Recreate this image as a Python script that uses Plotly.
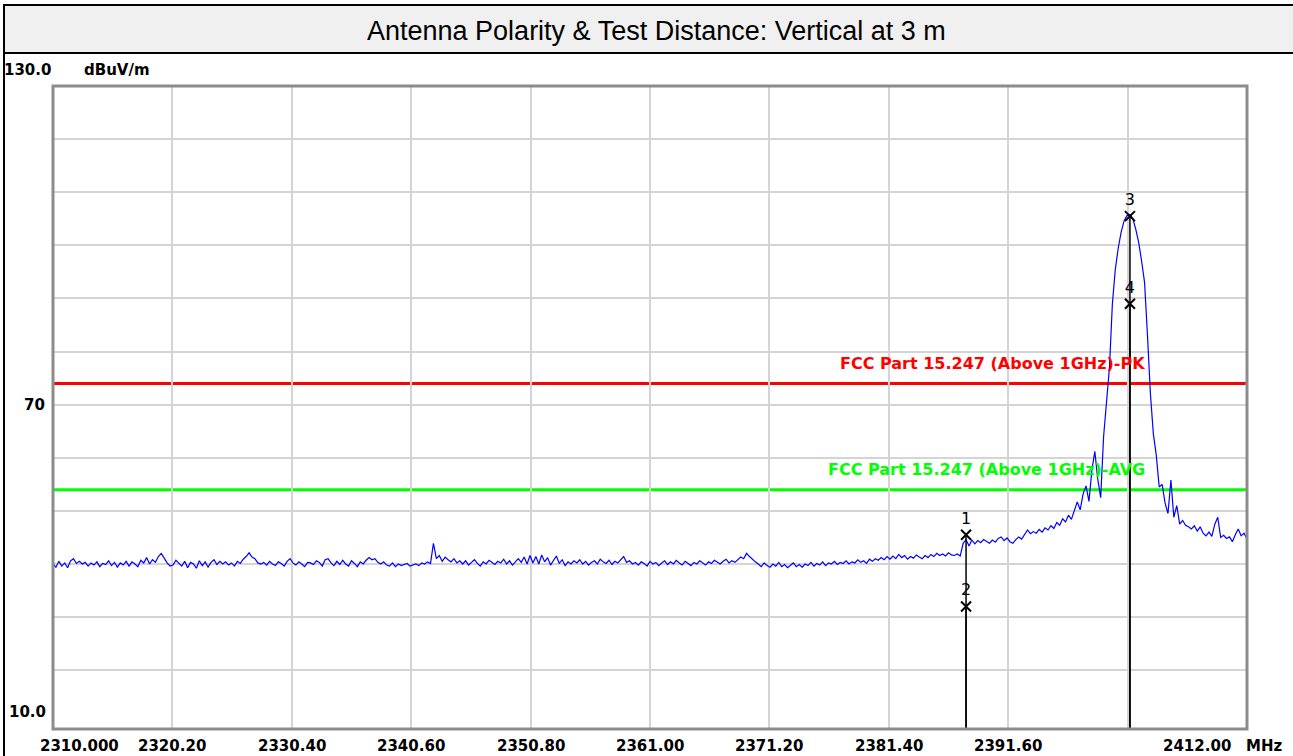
import numpy as np
import plotly.graph_objects as go

# ---------------- data ----------------
title_text = "Antenna Polarity & Test Distance: Vertical at 3 m"

f_start = 2310.0
f_stop = 2412.0
f_step = 0.25

# measured level (dBuV/m), one value every 0.25 MHz from 2310 to 2412 MHz
level_dbuv = [
    40.0, 39.4, 40.5, 39.6, 40.2, 39.3, 40.6, 41.0, 40.1, 40.5, 40.0, 40.3, 39.6, 40.2, 39.8, 40.4, 39.5, 40.1, 39.9, 40.6,
    39.7, 40.3, 39.4, 40.2, 39.8, 40.5, 39.6, 40.4, 40.0, 39.5, 40.7, 40.2, 41.2, 40.0, 40.8, 40.3, 41.4, 42.0, 41.1, 40.2,
    39.6, 39.8, 40.7, 40.2, 39.6, 40.5, 39.3, 40.3, 40.0, 39.2, 40.6, 39.7, 40.4, 39.4, 40.3, 40.8, 39.9, 40.5, 40.0, 40.4,
    39.8, 40.2, 39.6, 40.5, 40.1, 40.9, 41.4, 42.1, 41.3, 41.0, 40.2, 40.0, 40.3, 39.8, 40.5, 40.0, 39.7, 40.4, 40.1, 39.6,
    40.5, 41.0, 40.2, 39.8, 40.4, 40.0, 39.5, 40.3, 40.2, 39.9, 40.6, 40.3, 39.6, 40.8, 41.0, 40.2, 39.7, 40.5, 39.9, 40.7,
    40.0, 39.6, 40.6, 40.1, 39.5, 40.4, 40.0, 40.7, 41.2, 40.8, 41.0, 40.3, 40.0, 40.4, 39.8, 39.6, 40.2, 39.5, 40.0, 39.7,
    39.9, 40.1, 39.6, 39.8, 40.0, 39.7, 40.2, 40.0, 40.4, 40.1, 43.9, 41.0, 41.6, 40.5, 41.3, 40.8, 40.4, 41.0, 40.2, 40.6,
    40.0, 40.6, 39.8, 40.3, 40.8, 40.1, 39.6, 40.4, 40.0, 40.7, 40.3, 39.9, 40.5, 40.2, 40.9, 40.0, 40.6, 39.8, 40.4, 41.0,
    40.3, 41.3, 40.0, 41.6, 40.2, 41.4, 40.0, 41.7, 40.4, 41.2, 39.8, 40.7, 41.5, 40.1, 40.8, 39.7, 40.4, 40.0, 40.6, 40.2,
    40.8, 40.0, 40.5, 39.8, 40.3, 40.6, 40.0, 40.9, 40.4, 40.1, 40.7, 39.9, 40.5, 40.2, 40.8, 41.4, 40.3, 40.6, 40.0, 40.3,
    39.8, 40.4, 40.1, 39.6, 40.5, 40.0, 40.3, 39.7, 40.2, 40.6, 39.9, 40.4, 40.0, 40.7, 40.2, 39.8, 40.5, 40.1, 39.7, 40.3,
    40.0, 40.6, 40.2, 39.8, 40.4, 40.1, 40.7, 40.3, 40.0, 40.5, 40.9, 40.2, 40.6, 40.3, 40.8, 41.3, 41.0, 42.0, 41.4, 40.8,
    40.4, 40.0, 39.5, 40.2, 39.7, 39.4, 40.0, 39.6, 40.3, 39.5, 39.9, 39.3, 39.8, 40.2, 39.5, 39.9, 39.4, 40.0, 39.7, 40.3,
    39.6, 40.1, 39.8, 40.4, 39.7, 40.2, 40.0, 40.5, 39.9, 40.3, 40.1, 40.6, 40.0, 40.4, 40.2, 40.8, 40.3, 40.6, 40.1, 40.9,
    40.5, 41.0, 40.7, 41.2, 40.8, 41.4, 40.9, 41.5, 41.0, 41.8, 41.2, 41.6, 40.9, 41.4, 41.1, 41.7, 41.3, 41.0, 41.6, 41.2,
    41.8, 41.4, 42.0, 41.6, 41.9, 41.5, 42.1, 41.7, 41.6, 41.9, 41.5, 43.9, 44.6, 43.4, 44.5, 43.8, 44.4, 44.0, 44.6, 44.2,
    43.9, 44.5, 44.1, 44.8, 45.1, 44.4, 44.9, 44.2, 43.9, 44.6, 45.1, 44.7, 45.5, 46.4, 45.7, 46.1, 45.8, 46.5, 46.0, 46.8,
    46.4, 47.2, 46.7, 47.8, 47.3, 48.5, 47.9, 49.2, 48.4, 50.0, 51.7, 50.2, 53.2, 54.7, 51.8, 57.7, 61.2, 56.0, 52.5, 64.0,
    70.5, 77.0, 89.0, 95.5, 99.5, 102.5, 104.6, 105.6, 105.8, 105.0, 103.0, 100.5, 97.0, 93.0, 83.0, 72.0, 64.5, 60.5, 54.5, 55.0,
    51.5, 49.5, 55.8, 48.8, 51.0, 47.5, 48.2, 47.3, 47.0, 46.6, 47.2, 46.2, 47.0, 45.8, 45.3, 46.0, 45.2, 47.5, 48.8, 45.0,
    45.4, 44.8, 45.1, 44.2, 45.5, 46.6, 45.3, 45.8, 44.7,
]
freq_mhz = f_start + f_step * np.arange(len(level_dbuv))  # sweep grid

# markers
mk_freq = [2388.0, 2388.0, 2402.0, 2402.0]
mk_level = [45.5, 32.0, 105.5, 89.0]
mk_label = ["1", "2", "3", "4"]

# limit lines
limit_names = ["FCC Part 15.247 (Above 1GHz)-PK", "FCC Part 15.247 (Above 1GHz)-AVG"]
limit_levels = [74.0, 54.0]
limit_colors = ["#ff0000", "#00ff00"]

# axes
x_grid_vals = [2320.2, 2330.4, 2340.6, 2350.8, 2361.0, 2371.2, 2381.4, 2391.6, 2401.8]
x_label_vals = [2310.0, 2320.2, 2330.4, 2340.6, 2350.8, 2361.0, 2371.2, 2381.4, 2391.6, 2412.0]
x_label_text = ["2310.000", "2320.20", "2330.40", "2340.60", "2350.80", "2361.00",
                "2371.20", "2381.40", "2391.60", "2412.00"]
x_unit = "MHz"
y_grid_vals = [20, 30, 40, 50, 60, 70, 80, 90, 100, 110, 120]
y_label_vals = [130, 70, 10]
y_label_text = ["130.0", "70", "10.0"]
y_unit = "dBuV/m"

# ---------------- layout geometry ----------------
W, H = 1293, 756
ML, MR, MT, MB = 53, 46, 86, 27
PW, PH = W - ML - MR, H - MT - MB
Y_MIN, Y_MAX = 8.93, 130.0


def px_x(px):
    return (px - ML) / PW


def px_y(py):
    return (H - MB - py) / PH


AX_FONT = dict(family="DejaVu Sans", size=15, color="black", weight="bold")

fig = go.Figure()

fig.add_trace(go.Scatter(
    x=freq_mhz, y=level_dbuv, mode="lines",
    line=dict(color="#0000ff", width=1.2), hoverinfo="skip", showlegend=False))

# marker vertical lines
for f, lv in zip(mk_freq, mk_level):
    fig.add_trace(go.Scatter(x=[f, f], y=[lv, Y_MIN], mode="lines",
                             line=dict(color="black", width=1.5),
                             hoverinfo="skip", showlegend=False))

fig.add_trace(go.Scatter(
    x=mk_freq, y=mk_level, mode="markers+text", text=mk_label,
    textposition="top center",
    textfont=dict(family="DejaVu Sans", size=16, color="black"),
    marker=dict(symbol="x-thin", size=10, line=dict(color="black", width=2)),
    hoverinfo="skip", showlegend=False))

shapes = []
annotations = []

# limit lines + labels
for name, lv, col in zip(limit_names, limit_levels, limit_colors):
    shapes.append(dict(type="line", xref="paper", yref="y", x0=0, x1=1, y0=lv, y1=lv,
                       line=dict(color=col, width=3), layer="between"))
    annotations.append(dict(text=name, xref="paper", yref="y", x=px_x(1147), y=lv,
                            xanchor="right", yanchor="middle", yshift=20, showarrow=False,
                            font=dict(family="DejaVu Sans", size=16, color=col, weight="bold")))

# plot frame
shapes.append(dict(type="rect", xref="paper", yref="paper", x0=0, x1=1, y0=0, y1=1,
                   line=dict(color="#8c8c8c", width=3), layer="above"))

# title box and outer left border
shapes.append(dict(type="rect", xref="paper", yref="paper",
                   x0=px_x(4), x1=px_x(1300), y0=px_y(53), y1=px_y(5),
                   fillcolor="#f0f0f0", line=dict(color="black", width=2), layer="above"))
shapes.append(dict(type="line", xref="paper", yref="paper",
                   x0=px_x(4), x1=px_x(4), y0=px_y(760), y1=px_y(5),
                   line=dict(color="black", width=2), layer="above"))
annotations.append(dict(text=title_text, xref="paper", yref="paper",
                        x=px_x(656), y=px_y(31), xanchor="center", yanchor="middle",
                        showarrow=False,
                        font=dict(family="Liberation Sans", size=27, color="black")))

# x labels
for v, t in zip(x_label_vals, x_label_text):
    if v == x_label_vals[0]:
        anchor, shift = "left", -15
    elif v == x_label_vals[-1]:
        anchor, shift = "right", -14
    else:
        anchor, shift = "center", 0
    annotations.append(dict(text=t, xref="x", yref="paper", x=v, y=0, yshift=-17,
                            xanchor=anchor, xshift=shift, yanchor="middle",
                            showarrow=False, font=AX_FONT))
annotations.append(dict(text=x_unit, xref="x", yref="paper", x=x_label_vals[-1], y=0,
                        yshift=-17, xanchor="left", xshift=-3, yanchor="middle",
                        showarrow=False, font=AX_FONT))

# y labels
for v, t in zip(y_label_vals, y_label_text):
    if v == y_label_vals[0]:
        annotations.append(dict(text=t, xref="paper", yref="y", x=0, y=v, xanchor="left",
                                xshift=-51, yshift=16, yanchor="middle", showarrow=False,
                                font=AX_FONT))
    elif v == y_label_vals[-1]:
        annotations.append(dict(text=t, xref="paper", yref="y", x=0, y=v, xanchor="right",
                                xshift=-5, yshift=11, yanchor="middle", showarrow=False,
                                font=AX_FONT))
    else:
        annotations.append(dict(text=t, xref="paper", yref="y", x=0, y=v, xanchor="right",
                                xshift=-6, yshift=0, yanchor="middle", showarrow=False,
                                font=AX_FONT))
annotations.append(dict(text=y_unit, xref="paper", yref="y", x=0, y=y_label_vals[0],
                        xanchor="left", xshift=29, yshift=16, yanchor="middle",
                        showarrow=False, font=AX_FONT))

fig.update_layout(
    width=W, height=H,
    margin=dict(l=ML, r=MR, t=MT, b=MB, pad=0),
    paper_bgcolor="white", plot_bgcolor="white",
    showlegend=False,
    shapes=shapes, annotations=annotations,
    xaxis=dict(range=[f_start, f_stop], tickvals=x_grid_vals, showticklabels=False,
               showgrid=True, gridcolor="#d4d4d4", gridwidth=2, zeroline=False,
               showline=False, ticks=""),
    yaxis=dict(range=[Y_MIN, Y_MAX], tickvals=y_grid_vals, showticklabels=False,
               showgrid=True, gridcolor="#d4d4d4", gridwidth=2, zeroline=False,
               showline=False, ticks=""),
)

fig.write_html("out.html", config={"displayModeBar": False},
               post_script="document.body.style.margin='0';document.body.style.overflow='hidden';")
